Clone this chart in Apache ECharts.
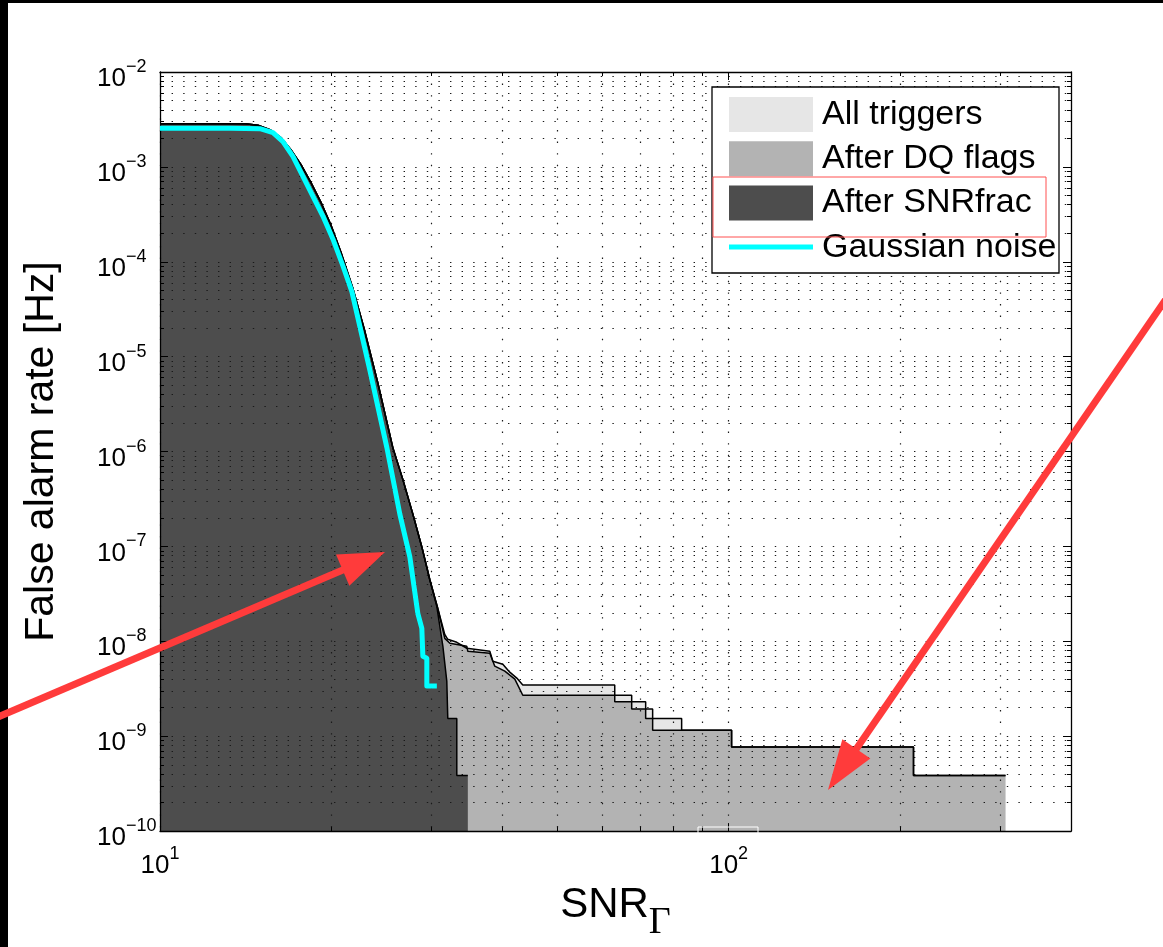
<!DOCTYPE html>
<html>
<head>
<meta charset="utf-8">
<script src="https://cdn.jsdelivr.net/npm/echarts@6/dist/echarts.min.js"></script>
<style>
  html, body { margin: 0; padding: 0; background: #fff; }
  #chart { width: 1163px; height: 947px; }
</style>
</head>
<body>
<div id="chart"></div>
<script>
// Cumulative false alarm rate (Hz) above each SNR threshold, per trigger set
const allSnr = [10, 14.11, 14.87, 15.61, 16.32, 16.99, 17.69, 18.42, 19.18, 19.98, 20.80, 21.84, 22.92, 24.16, 25.67, 26.73, 27.84, 28.87, 29.82, 30.80, 31.68, 32.07, 33.26, 34.64, 38.02, 38.48, 40.07, 41.22, 42.41, 43.45, 63.05, 63.05, 67.53, 67.53, 71.46, 71.46, 73.51, 73.51, 82.67, 82.67, 101.2, 101.2, 211.4, 211.4, 306.8];
const allRate = [2.85e-3, 2.85e-3, 2.75e-3, 2.47e-3, 2.04e-3, 1.52e-3, 1.06e-3, 6.88e-4, 4.25e-4, 2.44e-4, 1.27e-4, 5.22e-5, 1.85e-5, 5.28e-6, 1.10e-6, 5.09e-7, 2.19e-7, 9.88e-8, 4.46e-8, 2.22e-8, 1.18e-8, 1.05e-8, 9.76e-9, 8.45e-9, 7.86e-9, 6.18e-9, 5.74e-9, 4.73e-9, 4.10e-9, 3.47e-9, 3.47e-9, 2.70e-9, 2.70e-9, 2.31e-9, 2.31e-9, 1.93e-9, 1.93e-9, 1.54e-9, 1.54e-9, 1.155e-9, 1.155e-9, 7.7e-10, 7.7e-10, 3.85e-10, 3.85e-10];

const dqSnr = [10, 14.11, 14.87, 15.61, 16.32, 16.99, 17.69, 18.42, 19.18, 19.98, 20.80, 21.84, 22.92, 24.16, 25.67, 26.73, 27.84, 28.87, 29.82, 30.80, 31.68, 32.34, 34.64, 34.78, 38.02, 38.79, 40.40, 42.07, 43.45, 63.05, 63.05, 67.53, 67.53, 71.46, 71.46, 73.51, 73.51, 101.2, 101.2, 211.4, 211.4, 306.8];
const dqRate = [2.85e-3, 2.85e-3, 2.75e-3, 2.47e-3, 2.04e-3, 1.52e-3, 1.06e-3, 6.88e-4, 4.25e-4, 2.44e-4, 1.27e-4, 5.22e-5, 1.85e-5, 5.28e-6, 1.10e-6, 5.09e-7, 2.19e-7, 9.88e-8, 4.46e-8, 2.22e-8, 1.075e-8, 9.53e-9, 8.86e-9, 7.86e-9, 7.48e-9, 5.47e-9, 4.85e-9, 4.00e-9, 2.70e-9, 2.70e-9, 2.31e-9, 2.31e-9, 1.93e-9, 1.93e-9, 1.54e-9, 1.54e-9, 1.155e-9, 1.155e-9, 7.7e-10, 7.7e-10, 3.85e-10, 3.85e-10];

const fracSnr = [10, 14.11, 14.87, 15.61, 16.32, 16.99, 17.69, 18.42, 19.18, 19.98, 20.80, 21.84, 22.92, 24.16, 25.67, 26.73, 27.84, 28.87, 29.82, 30.68, 31.44, 31.94, 32.07, 33.26, 33.26, 34.78];
const fracRate = [2.85e-3, 2.85e-3, 2.75e-3, 2.47e-3, 2.04e-3, 1.52e-3, 1.06e-3, 6.88e-4, 4.25e-4, 2.44e-4, 1.27e-4, 5.22e-5, 1.85e-5, 5.28e-6, 1.10e-6, 5.09e-7, 2.19e-7, 9.88e-8, 4.46e-8, 2.32e-8, 8.87e-9, 3.81e-9, 1.54e-9, 1.54e-9, 3.85e-10, 3.85e-10];

const gaussSnr = [10, 13.27, 14.99, 15.80, 16.45, 17.13, 17.84, 18.57, 19.34, 20.14, 20.97, 21.75, 23.39, 25.06, 26.41, 27.50, 28.41, 28.87, 28.99, 29.46, 29.46, 30.68];
const gaussRate = [2.56e-3, 2.56e-3, 2.53e-3, 2.30e-3, 1.85e-3, 1.29e-3, 7.96e-4, 4.91e-4, 3.03e-4, 1.74e-4, 9.08e-5, 4.85e-5, 7.22e-6, 1.10e-6, 2.19e-7, 7.77e-8, 1.96e-8, 1.37e-8, 6.97e-9, 6.64e-9, 3.38e-9, 3.38e-9];

// Axis decades and legend entries
const xDecades = [10, 100];
const yDecades = [1e-10, 1e-9, 1e-8, 1e-7, 1e-6, 1e-5, 1e-4, 1e-3, 1e-2];
const seriesNames = ['All triggers', 'After DQ flags', 'After SNRfrac', 'Gaussian noise'];
const fillColors = ['#e6e6e6', '#b3b3b3', '#4d4d4d'];
const noiseColor = '#00ffff';

const X_MIN = 10, X_MAX = 400, Y_MIN = 1e-10, Y_MAX = 1e-2;
const FONT = "'Liberation Sans', Arial, Helvetica, sans-serif";

function pairs(xs, ys) { return xs.map((x, i) => [x, ys[i]]); }
// closes a step curve down to the bottom of the axis so the area ends with a vertical edge
function toFloor(xs, ys) { const p = pairs(xs, ys); p.push([xs[xs.length - 1], Y_MIN]); return p; }

const minorSteps = [2, 3, 4, 5, 6, 7, 8, 9];
function minorTicks(decades, lo, hi) {
  const out = [];
  decades.forEach(d => minorSteps.forEach(k => {
    const v = d * k;
    if (v > lo * 1.0001 && v < hi * 0.9999) out.push(v);
  }));
  return out;
}
const xMinor = minorTicks(xDecades, X_MIN, X_MAX);
const yMinor = minorTicks(yDecades, Y_MIN, Y_MAX);

function powLabel(v) {
  const e = Math.round(Math.log10(v));
  return '{b|10}{s|' + (e < 0 ? '\u2212' + (-e) : e) + '}';
}
const powRich = {
  b: { fontSize: 26, lineHeight: 34, verticalAlign: 'bottom', fontFamily: FONT, color: '#000' },
  s: { fontSize: 18, lineHeight: 10, verticalAlign: 'top', fontFamily: FONT, color: '#000' }
};

const gridLine = { show: true, lineStyle: { color: '#1a1a1a', width: 1.2, type: [1.4, 10.2] } };
const edgeColor = '#000';

function logAxis(extra) {
  return Object.assign({
    type: 'log', logBase: 10, gridIndex: 0, z: 2,
    axisLine: { show: false, onZero: false, lineStyle: { color: edgeColor, width: 1 } },
    axisTick: { show: false },
    axisLabel: { show: false },
    splitLine: { show: false },
    minorTick: { show: false },
    minorSplitLine: { show: false }
  }, extra);
}
function tickSet(values, len) {
  return { show: true, inside: true, length: len, customValues: values, lineStyle: { color: edgeColor, width: 1 } };
}

const xAxes = [
  logAxis({
    min: X_MIN, max: X_MAX, position: 'bottom',
    axisLine: { show: true, onZero: false, lineStyle: { color: edgeColor, width: 1.3 } },
    axisTick: tickSet(xDecades, 8),
    axisLabel: { show: true, customValues: xDecades, formatter: powLabel, rich: powRich, margin: 14 },
    splitLine: gridLine,
    name: '{m|SNR}{g|\u0393}',
    nameLocation: 'middle',
    nameGap: 41,
    nameTextStyle: {
      rich: {
        m: { fontSize: 42, lineHeight: 58, verticalAlign: 'top', fontFamily: FONT, color: '#000' },
        g: { fontSize: 38, lineHeight: 20, verticalAlign: 'bottom', fontFamily: "'Liberation Serif', 'Times New Roman', serif", color: '#000' }
      }
    }
  }),
  logAxis({ min: X_MIN, max: X_MAX, position: 'bottom', axisTick: tickSet(xMinor, 4), splitLine: gridLine }),
  logAxis({ min: X_MIN, max: X_MAX, position: 'top',
    axisLine: { show: true, onZero: false, lineStyle: { color: edgeColor, width: 1.3 } },
    axisTick: tickSet(xDecades, 8) }),
  logAxis({ min: X_MIN, max: X_MAX, position: 'top', axisTick: tickSet(xMinor, 4) })
];

const yAxes = [
  logAxis({
    min: Y_MIN, max: Y_MAX, position: 'left',
    axisLine: { show: true, onZero: false, lineStyle: { color: edgeColor, width: 1.3 } },
    axisTick: tickSet(yDecades, 8),
    axisLabel: { show: true, customValues: yDecades, formatter: powLabel, rich: powRich, margin: 63, align: 'left', padding: [6, 0, 0, 0] },
    splitLine: gridLine,
    name: 'False alarm rate [Hz]',
    nameLocation: 'middle',
    nameGap: 98,
    nameTextStyle: { fontSize: 41, fontFamily: FONT, color: '#000' }
  }),
  logAxis({ min: Y_MIN, max: Y_MAX, position: 'left', axisTick: tickSet(yMinor, 4), splitLine: gridLine }),
  logAxis({ min: Y_MIN, max: Y_MAX, position: 'right',
    axisLine: { show: true, onZero: false, lineStyle: { color: edgeColor, width: 1.3 } },
    axisTick: tickSet(yDecades, 8) }),
  logAxis({ min: Y_MIN, max: Y_MAX, position: 'right', axisTick: tickSet(yMinor, 4) })
];

function areaSeries(name, xs, ys, color) {
  return {
    name: name, type: 'line', xAxisIndex: 0, yAxisIndex: 0,
    data: toFloor(xs, ys), symbol: 'none', silent: true, z: 1,
    itemStyle: { color: color },
    lineStyle: { width: 0, opacity: 0 },
    areaStyle: { color: color, opacity: 1, origin: 'start' }
  };
}
function edgeSeries(name, xs, ys) {
  return {
    name: name + ' edge', type: 'line', xAxisIndex: 0, yAxisIndex: 0,
    data: pairs(xs, ys), symbol: 'none', silent: true, z: 3,
    lineStyle: { color: edgeColor, width: 1.5 }
  };
}

const series = [
  areaSeries(seriesNames[0], allSnr, allRate, fillColors[0]),
  areaSeries(seriesNames[1], dqSnr, dqRate, fillColors[1]),
  areaSeries(seriesNames[2], fracSnr, fracRate, fillColors[2]),
  edgeSeries(seriesNames[0], allSnr, allRate),
  edgeSeries(seriesNames[1], dqSnr, dqRate),
  edgeSeries(seriesNames[2], fracSnr, fracRate),
  {
    name: seriesNames[3], type: 'line', xAxisIndex: 0, yAxisIndex: 0,
    data: pairs(gaussSnr, gaussRate), symbol: 'none', silent: true, z: 4,
    itemStyle: { color: noiseColor },
    lineStyle: { color: noiseColor, width: 5, join: 'round' }
  }
];

// Red call-out arrows drawn over the figure
function arrow(x0, y0, x1, y1, headLen, headHalf, color, width) {
  const dx = x1 - x0, dy = y1 - y0, L = Math.hypot(dx, dy);
  const ux = dx / L, uy = dy / L, nx = -uy, ny = ux;
  const bx = x1 - ux * headLen, by = y1 - uy * headLen;
  return [
    { type: 'line', z: 20, shape: { x1: x0, y1: y0, x2: bx + ux * 2, y2: by + uy * 2 },
      style: { stroke: color, lineWidth: width } },
    { type: 'polygon', z: 20,
      shape: { points: [[x1, y1], [bx + nx * headHalf, by + ny * headHalf], [bx - nx * headHalf, by - ny * headHalf]] },
      style: { fill: color } }
  ];
}
const red = '#ff3b3b';

const graphics = [
  // legend frame
  { type: 'rect', z: 10, shape: { x: 712, y: 87, width: 347, height: 186 },
    style: { fill: '#fff', stroke: '#000', lineWidth: 1.3 } },
  // highlight box around one legend entry
  { type: 'rect', z: 20, shape: { x: 713, y: 177, width: 333, height: 60 },
    style: { fill: null, stroke: '#ff5050', lineWidth: 1 } },
  // small white marker box at the bottom axis
  { type: 'rect', z: 20, shape: { x: 698, y: 827, width: 60, height: 12 },
    style: { fill: null, stroke: '#ffffff', lineWidth: 1 } },
  // dark frame along the top and left edges
  { type: 'rect', z: 18, shape: { x: 0, y: 0, width: 1163, height: 3 }, style: { fill: '#000' } },
  { type: 'rect', z: 18, shape: { x: 0, y: 0, width: 8, height: 947 }, style: { fill: '#000' } },
  ...arrow(-2, 717, 385, 552, 46, 17, red, 7),
  ...arrow(1175, 286, 828, 790, 50, 17, red, 7)
];

// thin horizontal bar used as the legend mark of the noise curve
const lineIcon = 'path://M0,0L0.01,0M0,14.5H84V19.5H0ZM0,35L0.01,35';

const chart = echarts.init(document.getElementById('chart'), null, { renderer: 'canvas' });
chart.setOption({
  animation: false,
  backgroundColor: '#ffffff',
  grid: { left: 160, top: 72, right: 92, bottom: 111, containLabel: false },
  xAxis: xAxes,
  yAxis: yAxes,
  legend: {
    orient: 'vertical', left: 729, top: 97, padding: 0,
    itemWidth: 84, itemHeight: 35, itemGap: 9.3, selectedMode: false, z: 11,
    textStyle: { fontSize: 34, fontFamily: FONT, color: '#000', padding: [0, 0, 0, 4] },
    data: [
      { name: seriesNames[0], icon: 'rect' },
      { name: seriesNames[1], icon: 'rect' },
      { name: seriesNames[2], icon: 'rect' },
      { name: seriesNames[3], icon: lineIcon }
    ]
  },
  series: series,
  graphic: graphics
});
</script>
</body>
</html>
